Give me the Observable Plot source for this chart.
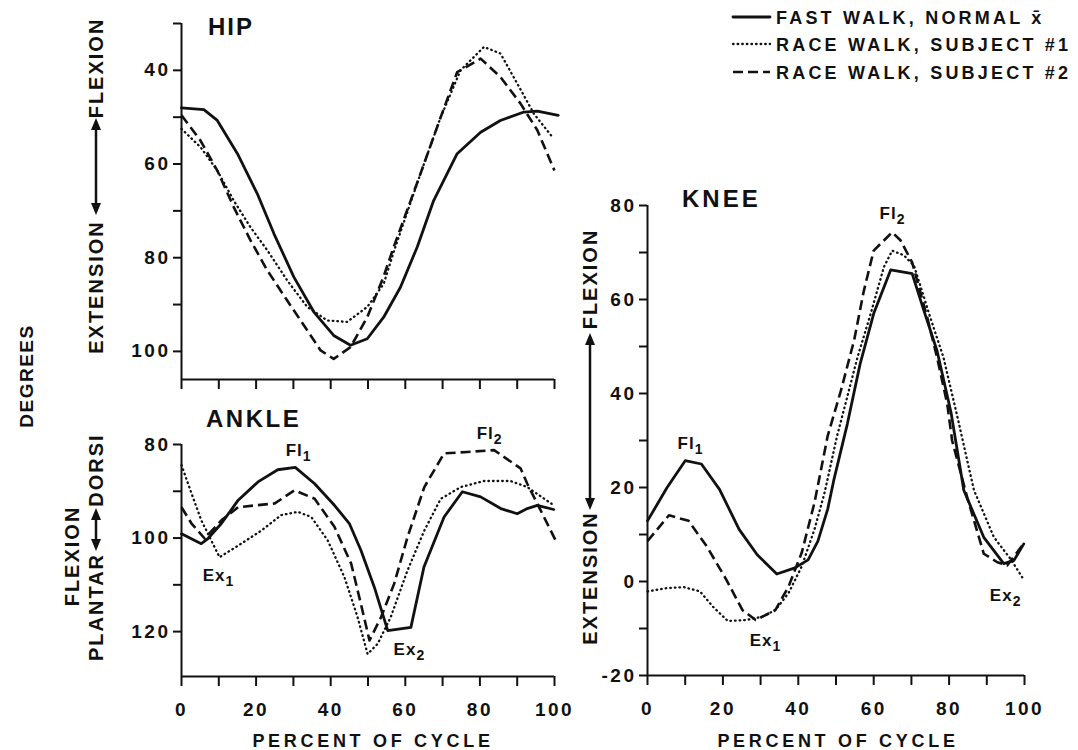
<!DOCTYPE html>
<html><head><meta charset="utf-8">
<script src="https://cdn.jsdelivr.net/npm/d3@7"></script>
<script src="https://cdn.jsdelivr.net/npm/@observablehq/plot@0.6"></script>
<style>
body{margin:0;background:#fff;}
#wrap{position:relative;width:1078px;height:750px;overflow:hidden;font-family:"Liberation Sans",Arial,Helvetica,sans-serif;color:#111;}
#wrap svg{position:absolute;overflow:visible;}
#wrap g[aria-label="x-axis tick label"] text,#wrap g[aria-label="y-axis tick label"] text{letter-spacing:2.5px;}
#overlay text{font-weight:bold;fill:#111;}
</style></head><body><div id="wrap"></div>
<script>
// ---------- data ----------
const xTicks = [0,10,20,30,40,50,60,70,80,90,100];
const xLabels = [0,20,40,60,80,100];
const seriesNames = ["FAST WALK, NORMAL x\u0304", "RACE WALK, SUBJECT #1", "RACE WALK, SUBJECT #2"];

const hipTicks = [30,40,50,60,70,80,90,100];
const hipLabels = [40,60,80,100];
const hipFast = [[0,48.0],[6,48.4],[9.6,50.7],[15,57.8],[20.3,66.3],[24.8,74.9],[30.1,84.1],[35.5,91.6],[40.8,96.6],[45.3,98.7],[49.8,97.3],[54.2,92.7],[58.7,86.3],[63.2,77.7],[67.6,67.8],[73.9,57.8],[80.2,53.2],[85.5,50.7],[91.8,48.9],[95.4,48.7],[101,49.6]];
const hipRace1 = [[0,52.5],[5.1,56.4],[9.6,61.4],[14,67.8],[18.5,73.5],[23,78.4],[28.3,84.8],[33.7,90.5],[39.1,93.4],[44.4,93.7],[49.8,90.5],[54.2,85.6],[57,78.5],[64.1,62],[69.4,50.2],[74.8,40.0],[81.1,35.0],[85.5,36.4],[90,42.8],[94.5,49.3],[99.4,54.2]];
const hipRace2 = [[0,49.6],[5.1,55],[9.6,61.4],[14,69.2],[18.5,76.3],[23,82.7],[28.3,89.1],[33.7,95.5],[37.3,99.8],[40.8,101.6],[45.3,99.1],[49.8,92.7],[54.2,84],[56.9,77.7],[64.1,62],[69.4,50.2],[73.9,40.4],[80.2,37.5],[85.5,41.4],[90.9,47.1],[95.4,52.8],[100,61.4]];

const ankleTicks = [80,90,100,110,120];
const ankleLabels = [80,100,120];
const ankleFast = [[0,99.1],[5.3,101.2],[7.1,100.1],[10.7,96.9],[15.2,91.9],[20.5,88],[25.8,85.4],[30.5,84.9],[35.7,88.4],[41,93],[45,96.9],[48.1,102.6],[51.7,110.5],[55.3,119.8],[61.5,119.1],[65,106.2],[70.4,95.5],[75.3,90.1],[80.2,91.2],[85.6,93.7],[90,94.8],[92.7,93.7],[95.4,93],[99.8,93.9]];
const ankleRace1 = [[0,84.4],[2.7,90.5],[5.3,96.2],[10.2,104.1],[16,101.2],[21.4,98.4],[26.7,95.1],[31.2,94.4],[34.8,95.5],[39.2,100.5],[43.7,108.4],[47.2,116.9],[49.9,124.8],[52.6,122.6],[56.1,116.9],[60.6,106.9],[65.1,98.4],[69.5,91.6],[74.9,89.1],[81.1,87.8],[88.2,87.8],[92.7,89.1],[99.8,93]];
const ankleRace2 = [[0,93.4],[2.7,96.9],[6.2,100.1],[10.7,96.2],[15.2,93.4],[25,92.6],[30.3,89.8],[35.7,91.6],[41,97.6],[45.5,105.5],[48.1,114.1],[50.4,121.9],[53.5,116.9],[57,109.8],[60.6,99.8],[65.1,89.1],[70.4,81.9],[76.6,81.6],[83.8,81.2],[90.9,85.1],[92.7,88.4],[96.3,94.1],[100.3,100.5]];
const ankleNotes = [{x:31.4,y:81.3,label:"Fl_1"},{x:9.9,y:108,label:"Ex_1"},{x:61.1,y:123.8,label:"Ex_2"},{x:82.6,y:77.6,label:"Fl_2"}];

const kneeTicks = [-20,-10,0,10,20,30,40,50,60,70,80];
const kneeLabels = [-20,0,20,40,60,80];
const kneeFast = [[0,12.9],[5.2,20],[10,25.7],[14.3,25],[19.1,19.6],[24.3,11.1],[29.1,5.7],[34.3,1.6],[39.1,2.9],[42.6,4.6],[45.2,8.6],[47.8,15.4],[49.4,21.5],[53,33.5],[56.4,46.3],[60,57],[64.5,66.3],[70.2,65.5],[73.3,57.7],[76.8,49.1],[80.5,36],[83.9,19.4],[89.2,9.4],[94.5,3.8],[97.2,4.5],[99.8,8.0]];
const kneeRace1 = [[0,-2.1],[5.2,-1.4],[9.6,-1.2],[13.9,-2.1],[17.4,-5.4],[21.3,-8.4],[26.1,-8.2],[30.4,-7.5],[33.9,-6.1],[37.4,-2.5],[40.9,3.2],[44.3,11.1],[47,19],[50.3,31],[55.7,47.7],[59.2,57],[62.7,66.9],[64.9,70.4],[68,69.4],[70.7,67.2],[75,56.2],[78.5,47.7],[82.5,34],[86.6,19.4],[91.9,9.4],[96.3,4.8],[99.4,0.9]];
const kneeRace2 = [[0,8.6],[5.7,14.1],[10.9,12.9],[15.7,7.5],[20.9,0.4],[25.2,-6.1],[28.7,-8.2],[33.9,-6.1],[37.4,-1.1],[40.9,6.1],[44.3,16.8],[47.8,31],[51.3,40.6],[54.8,51.3],[57.4,61.9],[60,70.4],[64.9,74.3],[67.1,72.6],[70.2,67.9],[74.2,56.2],[76.8,47.7],[79.5,37.8],[80.8,30],[84.8,17.9],[89.2,5.9],[92.8,4.1],[95.4,3.4],[100,8.3]];
const kneeNotes = [{x:11.4,y:29.3,label:"Fl_1"},{x:31.3,y:-12.5,label:"Ex_1"},{x:65,y:78.3,label:"Fl_2"},{x:95,y:-3,label:"Ex_2"}];

// ---------- styles ----------
const FONT = '"Liberation Sans", Arial, Helvetica, sans-serif';
const lineStyles = [
  {strokeWidth: 2.8, strokeDasharray: null, strokeLinecap: "round"},
  {strokeWidth: 2.3, strokeDasharray: "0.6 4", strokeLinecap: "round"},
  {strokeWidth: 2.6, strokeDasharray: "10 5", strokeLinecap: "butt"}
];

const wrap = document.getElementById("wrap");

function panel(o) {
  const bottom = o.reverse ? o.yDomain[1] : o.yDomain[0];
  const sets = [o.fast, o.race1, o.race2];
  const marks = [
    Plot.ruleX([0], {stroke: "#111", strokeWidth: 2}),
    Plot.ruleY([bottom], {stroke: "#111", strokeWidth: 2}),
    Plot.axisY({ticks: o.yTicks, tickSize: 8, tickPadding: 3, strokeWidth: 2, fontSize: 19, fontWeight: "bold",
      tickFormat: d => o.yLabels.includes(d) ? String(d) : "", label: null}),
    Plot.axisX({ticks: xTicks, tickSize: 10, tickPadding: 16, strokeWidth: 2, fontSize: 19, fontWeight: "bold",
      tickFormat: d => (o.xLabelsShown && xLabels.includes(d)) ? String(d) : "", label: null}),
    ...sets.map((s, i) => Plot.line(s, {x: d => d[0], y: d => d[1], stroke: "#111",
      strokeWidth: lineStyles[i].strokeWidth, strokeDasharray: lineStyles[i].strokeDasharray,
      strokeLinecap: lineStyles[i].strokeLinecap, strokeLinejoin: "round"}))
  ];
  if (o.notes) marks.push(Plot.text(o.notes, {x: "x", y: "y", text: "label", fontSize: 17, fontWeight: "bold", fill: "#111"}));
  const svg = Plot.plot({
    width: o.width, height: o.height,
    marginLeft: o.ml, marginRight: o.mr, marginTop: o.mt, marginBottom: o.mb,
    x: {domain: [0, 100]},
    y: {domain: o.yDomain, reverse: o.reverse},
    style: {background: "transparent", fontFamily: FONT, color: "#111", overflow: "visible"},
    marks
  });
  svg.style.left = o.left + "px";
  svg.style.top = o.top + "px";
  // subscripts in annotations
  d3.select(svg).selectAll("text").each(function() {
    const t = this.textContent;
    if (t.includes("_")) {
      const [a, b] = t.split("_");
      const sel = d3.select(this);
      sel.text("");
      sel.style("letter-spacing", "1px");
      sel.append("tspan").text(a);
      sel.append("tspan").attr("dy", 5).attr("font-size", 14).text(b);
    }
  });
  wrap.appendChild(svg);
}

panel({fast: hipFast, race1: hipRace1, race2: hipRace2, yDomain: [30, 106], reverse: true,
  yTicks: hipTicks, yLabels: hipLabels, xLabelsShown: false,
  width: 600, height: 420, ml: 181, mr: 46, mt: 23, mb: 41, left: 0, top: 0});
panel({fast: ankleFast, race1: ankleRace1, race2: ankleRace2, yDomain: [80, 129.6], reverse: true,
  yTicks: ankleTicks, yLabels: ankleLabels, xLabelsShown: true, notes: ankleNotes,
  width: 600, height: 330, ml: 181, mr: 46, mt: 24, mb: 74, left: 0, top: 420});
panel({fast: kneeFast, race1: kneeRace1, race2: kneeRace2, yDomain: [-20, 80], reverse: false,
  yTicks: kneeTicks, yLabels: kneeLabels, xLabelsShown: true, notes: kneeNotes,
  width: 518, height: 600, ml: 87, mr: 54, mt: 55, mb: 75, left: 560, top: 150});

// ---------- overlay: titles, axis labels, legend ----------
const ov = d3.select(wrap).append("svg").attr("id", "overlay")
  .attr("width", 1078).attr("height", 750).style("left", "0px").style("top", "0px")
  .style("pointer-events", "none").style("font-family", FONT);

function txt(x, y, s, size, ls, anchor = "start", rot = 0) {
  ov.append("text")
    .attr("transform", `translate(${x},${y}) rotate(${rot})`)
    .attr("text-anchor", anchor)
    .attr("dominant-baseline", rot ? "central" : "alphabetic")
    .style("font-size", size + "px").style("letter-spacing", ls + "px")
    .text(s);
}
function vArrow(x, y1, y2) {
  const h = 12, w = 5;
  ov.append("line").attr("x1", x).attr("x2", x).attr("y1", y1 + h - 2).attr("y2", y2 - h + 2)
    .attr("stroke", "#111").attr("stroke-width", 2.5);
  ov.append("path").attr("d", `M${x},${y1} L${x - w},${y1 + h} L${x + w},${y1 + h} Z`).attr("fill", "#111");
  ov.append("path").attr("d", `M${x},${y2} L${x - w},${y2 - h} L${x + w},${y2 - h} Z`).attr("fill", "#111");
}

// panel titles
txt(208, 35, "HIP", 24, 2);
txt(206, 427, "ANKLE", 24, 2.5);
txt(682, 207, "KNEE", 24, 3);
// x-axis titles
txt(373, 747, "PERCENT OF CYCLE", 18, 3.7, "middle");
txt(838, 747, "PERCENT OF CYCLE", 18, 3.7, "middle");
// y-axis titles
txt(26, 376, "DEGREES", 19, 1.5, "middle", -90);
txt(96, 68, "FLEXION", 20, 2, "middle", -90);
vArrow(96, 118, 215);
txt(96, 287, "EXTENSION", 20, 2, "middle", -90);
txt(96, 470, "DORSI", 20, 2, "middle", -90);
vArrow(96, 508, 551);
txt(96, 607, "PLANTAR", 20, 2, "middle", -90);
txt(72, 556, "FLEXION", 20, 2, "middle", -90);
txt(590, 279, "FLEXION", 20, 2, "middle", -90);
vArrow(590, 333, 510);
txt(590, 578, "EXTENSION", 20, 2, "middle", -90);

// legend
const legY = [17, 44, 72];
seriesNames.forEach((name, i) => {
  const ls = lineStyles[i];
  const ln = ov.append("line").attr("x1", 733).attr("x2", 770).attr("y1", legY[i]).attr("y2", legY[i])
    .attr("stroke", "#111").attr("stroke-width", ls.strokeWidth).attr("stroke-linecap", ls.strokeLinecap);
  if (ls.strokeDasharray) ln.attr("stroke-dasharray", ls.strokeDasharray);
  txt(776, legY[i] + 6.5, name, 18, 3.2);
});
</script></body></html>
